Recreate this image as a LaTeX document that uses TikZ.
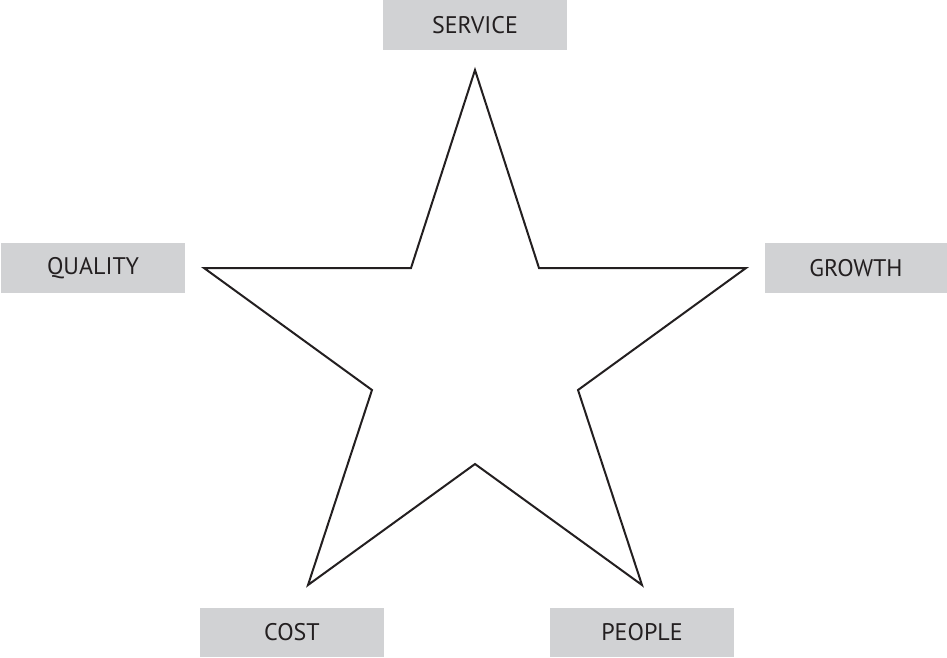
\documentclass[tikz,border=0pt]{standalone}
\usepackage{fontspec}
\setmainfont{PT Sans}
\usetikzlibrary{positioning}
\definecolor{boxgray}{HTML}{D1D2D4}
\definecolor{inkgray}{HTML}{231F20}

\begin{document}
\begin{tikzpicture}[
  x=1pt, y=-1pt,
  pillar/.style={fill=boxgray, text=inkgray, minimum width=184pt, minimum height=50pt,
    inner sep=0pt, font=\fontsize{24}{26}\selectfont}
]
  \useasboundingbox (0,0) rectangle (947,657);

  \node[pillar] (service) at (475,25) {SERVICE};
  \node[pillar] (quality) at (93,268) {QUALITY};
  \node[pillar, minimum width=182pt] (growth) at (856,268) {GROWTH};
  \node[pillar, minimum height=49pt] (cost) at (292,632.5) {COST};
  \node[pillar, minimum height=49pt] (people) at (642,632.5) {PEOPLE};

  % star points
  \coordinate (top) at (475,70);
  \coordinate (inUL) at (411,268);
  \coordinate (ptL) at (204,268);
  \coordinate (inL) at (372,390);
  \coordinate (ptBL) at (308,585);
  \coordinate (inB) at (475,464);
  \coordinate (ptBR) at (642,585);
  \coordinate (inR) at (578,390);
  \coordinate (ptR) at (746,268);
  \coordinate (inUR) at (539,268);

  \draw[inkgray, line width=2pt, miter limit=10]
    (top) -- (inUL) -- (ptL) -- (inL) -- (ptBL) -- (inB) -- (ptBR) -- (inR) -- (ptR) -- (inUR) -- cycle;
\end{tikzpicture}
\end{document}
